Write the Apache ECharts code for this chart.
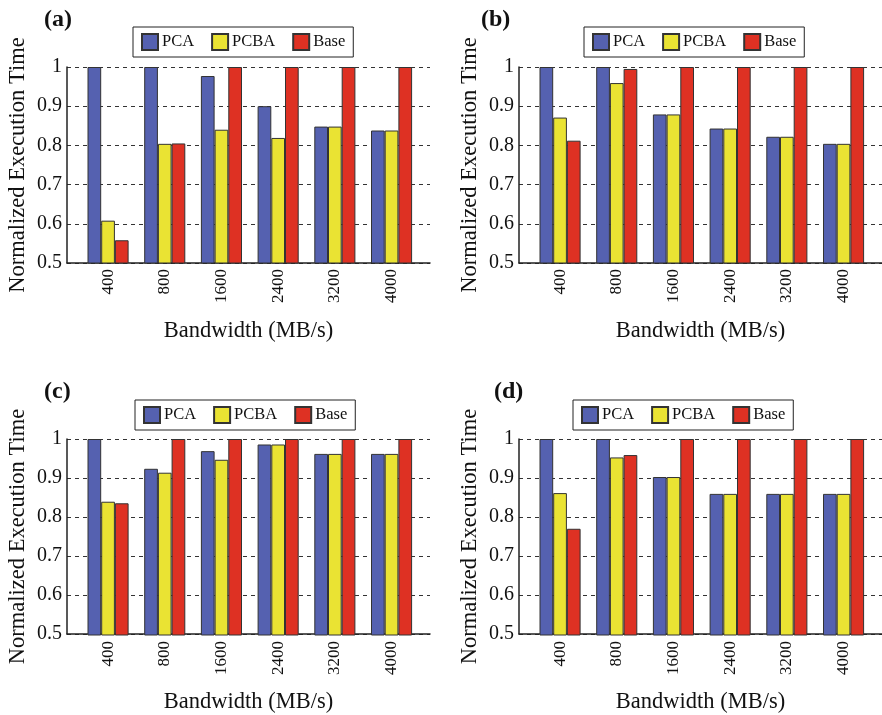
<!DOCTYPE html>
<html><head><meta charset="utf-8">
<script src="https://cdn.jsdelivr.net/npm/echarts@6/dist/echarts.min.js"></script>
<style>html,body{margin:0;padding:0;background:#fff}#c{width:882px;height:715px}</style>
</head><body><div id="c"></div>
<script>
const categories = ['400','800','1600','2400','3200','4000'];
const seriesNames = ['PCA','PCBA','Base'];
const yTicks = [0.5,0.6,0.7,0.8,0.9,1];
const panelTitles = ['(a)','(b)','(c)','(d)'];
// panel (a)
const pcaA  = [1.000,1.000,0.977,0.900,0.848,0.838];
const pcbaA = [0.608,0.804,0.840,0.819,0.848,0.838];
const baseA = [0.558,0.805,1.000,1.000,1.000,1.000];
// panel (b)
const pcaB  = [1.000,1.000,0.879,0.843,0.822,0.804];
const pcbaB = [0.871,0.959,0.879,0.843,0.822,0.804];
const baseB = [0.812,0.995,1.000,1.000,1.000,1.000];
// panel (c)
const pcaC  = [1.000,0.924,0.969,0.986,0.962,0.962];
const pcbaC = [0.840,0.914,0.947,0.986,0.962,0.962];
const baseC = [0.836,1.000,1.000,1.000,1.000,1.000];
// panel (d)
const pcaD  = [1.000,1.000,0.903,0.860,0.860,0.860];
const pcbaD = [0.862,0.953,0.903,0.860,0.860,0.860];
const baseD = [0.771,0.959,1.000,1.000,1.000,1.000];

const panelData = [[pcaA,pcbaA,baseA],[pcaB,pcbaB,baseB],[pcaC,pcbaC,baseC],[pcaD,pcbaD,baseD]];
const colors = ['#5561B0','#EAE333','#DE3123'];
const FONT = 'Liberation Serif';
const offsets = [[0,0],[452,0],[0,372],[452,372]];
const legendPos = [[133,27],[584,27],[135,400],[573,400]];
const titlePos = [[39,3],[476,3],[39,375],[489,375]];

const option = {animation:false, textStyle:{fontFamily:FONT, color:'#111'},
  title:[], legend:[], grid:[], xAxis:[], yAxis:[], series:[]};

panelData.forEach((pd,i)=>{
  const [ox,oy] = offsets[i];
  const top = oy+67, h = 196, left = ox+67, w = 363;
  option.title.push({text:panelTitles[i], left:titlePos[i][0], top:titlePos[i][1],
    textStyle:{fontFamily:FONT, fontWeight:'bold', fontSize:24, color:'#111'}});
  option.legend.push({data:seriesNames, left:legendPos[i][0], top:legendPos[i][1],
    orient:'horizontal', borderColor:'#222', borderWidth:1, padding:[6,8],
    itemWidth:16, itemHeight:16, itemGap:17, icon:'rect',
    textStyle:{fontFamily:FONT, fontSize:16.5, color:'#111', padding:[0,0,0,-1]}});
  // frame grid
  const fg = option.grid.length;
  option.grid.push({left:left, top:top, width:w, height:h, containLabel:false});
  option.xAxis.push({gridIndex:fg, type:'value', min:0, max:1, show:true,
    axisLine:{show:true, lineStyle:{color:'#222', width:1.5}}, axisTick:{show:false},
    axisLabel:{show:false}, splitLine:{show:false},
    name:'Bandwidth (MB/s)', nameLocation:'middle', nameGap:57,
    nameTextStyle:{fontFamily:FONT, fontSize:22.5, color:'#111'}});
  option.yAxis.push({gridIndex:fg, type:'value', min:0.5, max:1, interval:0.1,
    axisLine:{show:true, lineStyle:{color:'#222', width:1.5}}, axisTick:{show:false},
    axisLabel:{margin:5, fontFamily:FONT, fontSize:20, color:'#111',
      formatter:v=>{const t=yTicks.find(x=>Math.abs(x-v)<1e-6); return t===1?'1':(t!==undefined?t.toFixed(1):'');}},
    splitLine:{show:true, lineStyle:{color:'#333', width:1, type:[4,4]}},
    name:'Normalized Execution Time', nameLocation:'middle', nameGap:37,
    nameTextStyle:{fontFamily:FONT, fontSize:22.5, color:'#111'}});
  // bars grid
  const bg = option.grid.length;
  option.grid.push({left:left+12.7, top:top, width:340.2, height:h, containLabel:false});
  option.xAxis.push({gridIndex:bg, type:'category', data:categories,
    axisLine:{show:false}, axisTick:{show:false},
    axisLabel:{rotate:90, margin:6, fontFamily:FONT, fontSize:17, color:'#111'}});
  option.yAxis.push({gridIndex:bg, type:'value', min:0.5, max:1, show:false, splitLine:{show:false}});
  pd.forEach((vals,k)=>{
    option.series.push({type:'bar', name:seriesNames[k], xAxisIndex:bg, yAxisIndex:bg,
      data:vals, barWidth:13.7, barGap:'0%',
      itemStyle:{color:colors[k], borderColor:'#333', borderWidth:1}});
  });
});

const chart = echarts.init(document.getElementById('c'), null, {renderer:'canvas'});
chart.setOption(option);
</script></body></html>
